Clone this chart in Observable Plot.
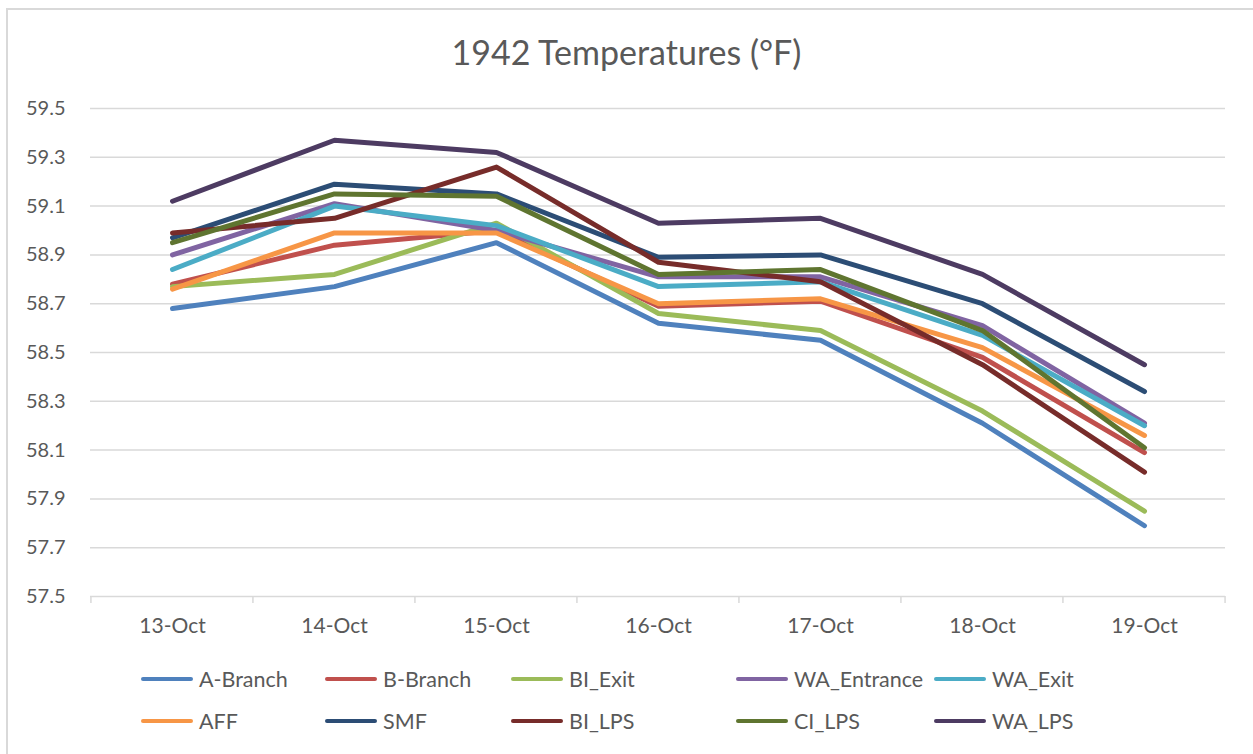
<!DOCTYPE html>
<html>
<head>
<meta charset="utf-8">
<script src="https://cdn.jsdelivr.net/npm/d3@7"></script>
<script src="https://cdn.jsdelivr.net/npm/@observablehq/plot@0.6"></script>
<style>
  html, body { margin: 0; padding: 0; background: #fff; }
  body { width: 1253px; height: 754px; overflow: hidden; position: relative; font-family: Lato, "Open Sans", sans-serif; color: #595959; }
  #frame { position: absolute; left: 6px; top: 8px; width: 1260px; height: 760px; border-left: 2px solid #d9d9d9; border-top: 2px solid #d9d9d9; box-sizing: border-box; }
  #title { position: absolute; left: 0; width: 1253px; top: 32px; text-align: center; font-size: 34px; line-height: 40px; color: #595959; }
  #chart { position: absolute; left: 0; top: 90px; }
  .leg { position: absolute; display: flex; align-items: center; font-size: 21.5px; line-height: 26px; color: #595959; white-space: nowrap; }
  .leg .sw { width: 52px; height: 4.5px; border-radius: 2.25px; margin-right: 6px; }
</style>
</head>
<body>
<div id="frame"></div>
<div id="title">1942 Temperatures (°F)</div>
<div id="chart"></div>
<div id="legend"></div>
<script>
const dates = ["13-Oct", "14-Oct", "15-Oct", "16-Oct", "17-Oct", "18-Oct", "19-Oct"];
const seriesNames = ["A-Branch", "B-Branch", "BI_Exit", "WA_Entrance", "WA_Exit", "AFF", "SMF", "BI_LPS", "CI_LPS", "WA_LPS"];
const seriesColors = ["#4F81BD", "#C0504D", "#9BBB59", "#8064A2", "#4BACC6", "#F79646", "#2C4D75", "#772C2A", "#5F7530", "#4D3B62"];
const aBranch    = [58.68, 58.77, 58.95, 58.62, 58.55, 58.21, 57.79];
const bBranch    = [58.78, 58.94, 59.00, 58.69, 58.71, 58.48, 58.09];
const biExit     = [58.77, 58.82, 59.03, 58.66, 58.59, 58.26, 57.85];
const waEntrance = [58.90, 59.11, 59.00, 58.81, 58.81, 58.61, 58.21];
const waExit     = [58.84, 59.10, 59.02, 58.77, 58.79, 58.57, 58.20];
const aff        = [58.76, 58.99, 58.99, 58.70, 58.72, 58.52, 58.16];
const smf        = [58.97, 59.19, 59.15, 58.89, 58.90, 58.70, 58.34];
const biLps      = [58.99, 59.05, 59.26, 58.87, 58.79, 58.45, 58.01];
const ciLps      = [58.95, 59.15, 59.14, 58.82, 58.84, 58.59, 58.11];
const waLps      = [59.12, 59.37, 59.32, 59.03, 59.05, 58.82, 58.45];
const yTicks = [57.5, 57.7, 57.9, 58.1, 58.3, 58.5, 58.7, 58.9, 59.1, 59.3, 59.5];

const seriesValues = [aBranch, bBranch, biExit, waEntrance, waExit, aff, smf, biLps, ciLps, waLps];
const rows = [];
seriesNames.forEach((name, si) => {
  dates.forEach((d, i) => rows.push({series: name, date: d, value: seriesValues[si][i]}));
});

const W = 1253, H = 560;
const mL = 90, mR = 28, mT = 18, mB = 54;
const step = (W - mL - mR) / dates.length;

const plot = Plot.plot({
  width: W,
  height: H,
  marginLeft: mL,
  marginRight: mR,
  marginTop: mT,
  marginBottom: mB,
  style: {fontFamily: "Lato, 'Open Sans', sans-serif", fontSize: "20px", color: "#595959", background: "transparent"},
  x: {type: "point", domain: dates, padding: 0.5, label: null},
  y: {domain: [57.5, 59.5], label: null},
  color: {domain: seriesNames, range: seriesColors},
  marks: [
    Plot.ruleY(yTicks, {stroke: "#d9d9d9", strokeWidth: 1.5}),
    Plot.tickX(dates, {x: d => d, y1: 57.5, y2: 57.5, stroke: "#d9d9d9", strokeWidth: 1.5,
      render: (index, scales, values, dims, context, next) => {
        const g = d3.create("svg:g");
        const y0 = scales.y(57.5);
        const xs = dates.map(d => scales.x(d) - step / 2).concat([scales.x(dates[dates.length - 1]) + step / 2]);
        xs.forEach(x => g.append("line").attr("x1", x).attr("x2", x).attr("y1", y0).attr("y2", y0 + 7)
          .attr("stroke", "#d9d9d9").attr("stroke-width", 1.5));
        return g.node();
      }}),
    Plot.axisY({ticks: yTicks, tickSize: 0, tickPadding: 25, tickFormat: d => d.toFixed(1), fill: "#595959", fontSize: 20}),
    Plot.axisX({tickSize: 0, tickPadding: 22, fill: "#595959", fontSize: 21}),
    Plot.line(rows, {x: "date", y: "value", z: "series", stroke: "series", strokeWidth: 5, strokeLinecap: "round", strokeLinejoin: "round"})
  ]
});
document.getElementById("chart").appendChild(plot);

const colLefts = [141, 325, 511, 736, 934];
const rowTops = [679, 721];
const legend = document.getElementById("legend");
seriesNames.forEach((name, i) => {
  const el = document.createElement("div");
  el.className = "leg";
  el.style.left = colLefts[i % 5] + "px";
  el.style.top = (rowTops[Math.floor(i / 5)] - 13) + "px";
  const sw = document.createElement("div");
  sw.className = "sw";
  sw.style.background = seriesColors[i];
  const tx = document.createElement("span");
  tx.textContent = name;
  el.appendChild(sw);
  el.appendChild(tx);
  legend.appendChild(el);
});
</script>
</body>
</html>
